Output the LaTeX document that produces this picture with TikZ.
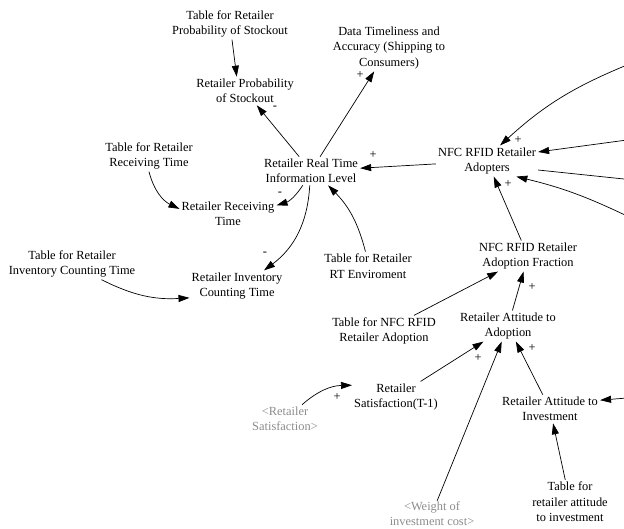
\documentclass[tikz,border=0pt]{standalone}
\usepackage{fontspec}
\setmainfont{Liberation Serif}
\usetikzlibrary{arrows.meta}
\definecolor{shadowgray}{RGB}{140,140,140}
\newcommand{\varfont}{\fontsize{12.4}{15.5}\selectfont}
\tikzset{
  var/.style={font=\varfont, align=center, inner sep=2pt},
  shadowvar/.style={var, text=shadowgray},
  link/.style={-{Triangle[length=11pt,width=7pt]}, line width=0.7pt},
  pol/.style={font=\varfont, inner sep=0pt},
}
\begin{document}
\begin{tikzpicture}[x=1pt,y=1pt]
\clip (0,0) rectangle (624,-529);

% variables
\node[var] (tprob)  at (230,-24)  {Table for Retailer\\Probability of Stockout};
\node[var] (prob)   at (245,-91)  {Retailer Probability\\of Stockout};
\node[var] (data)   at (389,-48)  {Data Timeliness and\\Accuracy (Shipping to\\Consumers)};
\node[var] (rtil)   at (311,-171) {Retailer Real Time\\Information Level};
\node[var] (trecv)  at (149,-156) {Table for Retailer\\Receiving Time};
\node[var] (recv)   at (228,-214) {Retailer Receiving\\Time};
\node[var] (tinv)   at (72,-264)  {Table for Retailer\\Inventory Counting Time};
\node[var] (inv)    at (237,-286) {Retailer Inventory\\Counting Time};
\node[var] (trt)    at (368,-266) {Table for Retailer\\RT Enviroment};
\node[var] (adopt)  at (487,-161) {NFC RFID Retailer\\Adopters};
\node[var] (frac)   at (528,-256) {NFC RFID Retailer\\Adoption Fraction};
\node[var] (tnfc)   at (384,-331) {Table for NFC RFID\\Retailer Adoption};
\node[var] (att)    at (508,-326) {Retailer Attitude to\\Adoption};
\node[var] (sat)    at (396,-397) {Retailer\\Satisfaction(T-1)};
\node[shadowvar] (satsh)  at (285,-419) {<Retailer\\Satisfaction>};
\node[var] (inv2)   at (550,-409) {Retailer Attitude to\\Investment};
\node[shadowvar, inner sep=0.5pt] (weight) at (432,-513.5) {<Weight of\\investment cost>};
\node[var] (tinv2)  at (570,-502) {Table for\\retailer attitude\\to investment};

% links entering from the right
\coordinate (e1) at (627,-65);
\coordinate (e2) at (627,-140);
\coordinate (e3) at (624,-179);
\coordinate (e4) at (627,-216);
\coordinate (e5) at (627,-398);

% links
\draw[link] (tprob) -- (prob.120);
\draw[link] (rtil) -- (prob);
\draw[link] (rtil) -- (data);
\draw[link] (adopt) -- (rtil);
\draw[link] (rtil.-120) to[bend left=20] (recv.10);
\draw[link] (rtil.-95) to[bend left=25] (inv.30);
\draw[link] (trecv.south) to[bend right=25] (recv.174);
\draw[link] (tinv.-28) to[bend right=15] (inv.-166);
\draw[link] (trt.100) to[bend right=15] (rtil.-40);
\draw[link] (frac) -- (adopt);
\draw[link] (tnfc) -- (frac);
\draw[link] (att) -- (frac);
\draw[link] (sat) -- (att);
\draw[link] (satsh.40) to[bend left=20] (sat.165);
\draw[link] (inv2) -- (att);
\draw[link] (weight) -- (att);
\draw[link] (tinv2) -- (inv2);
\draw[link] (e5) -- (inv2.10);
\draw[link] (e1) to[bend right=10] (adopt.50);
\draw[link] (e2) -- (adopt.10);
\draw[line width=0.7pt] (adopt.-10) -- (e3);
\draw[link] (e4) to[bend right=6] (adopt.-28);

% link polarities
\node[pol] (s1)  at (275,-108) {-};
\node[pol] (s2)  at (360,-75)  {+};
\node[pol] (s3)  at (373,-155) {+};
\node[pol] (s4)  at (280,-194) {-};
\node[pol] (s5)  at (265,-254) {-};
\node[pol] (s6)  at (518,-140) {+};
\node[pol] (s7)  at (508,-184) {+};
\node[pol] (s8)  at (532,-287) {+};
\node[pol] (s9)  at (478,-358) {+};
\node[pol] (s10) at (337,-397) {+};
\node[pol] (s11) at (532,-348) {+};
\end{tikzpicture}
\end{document}
